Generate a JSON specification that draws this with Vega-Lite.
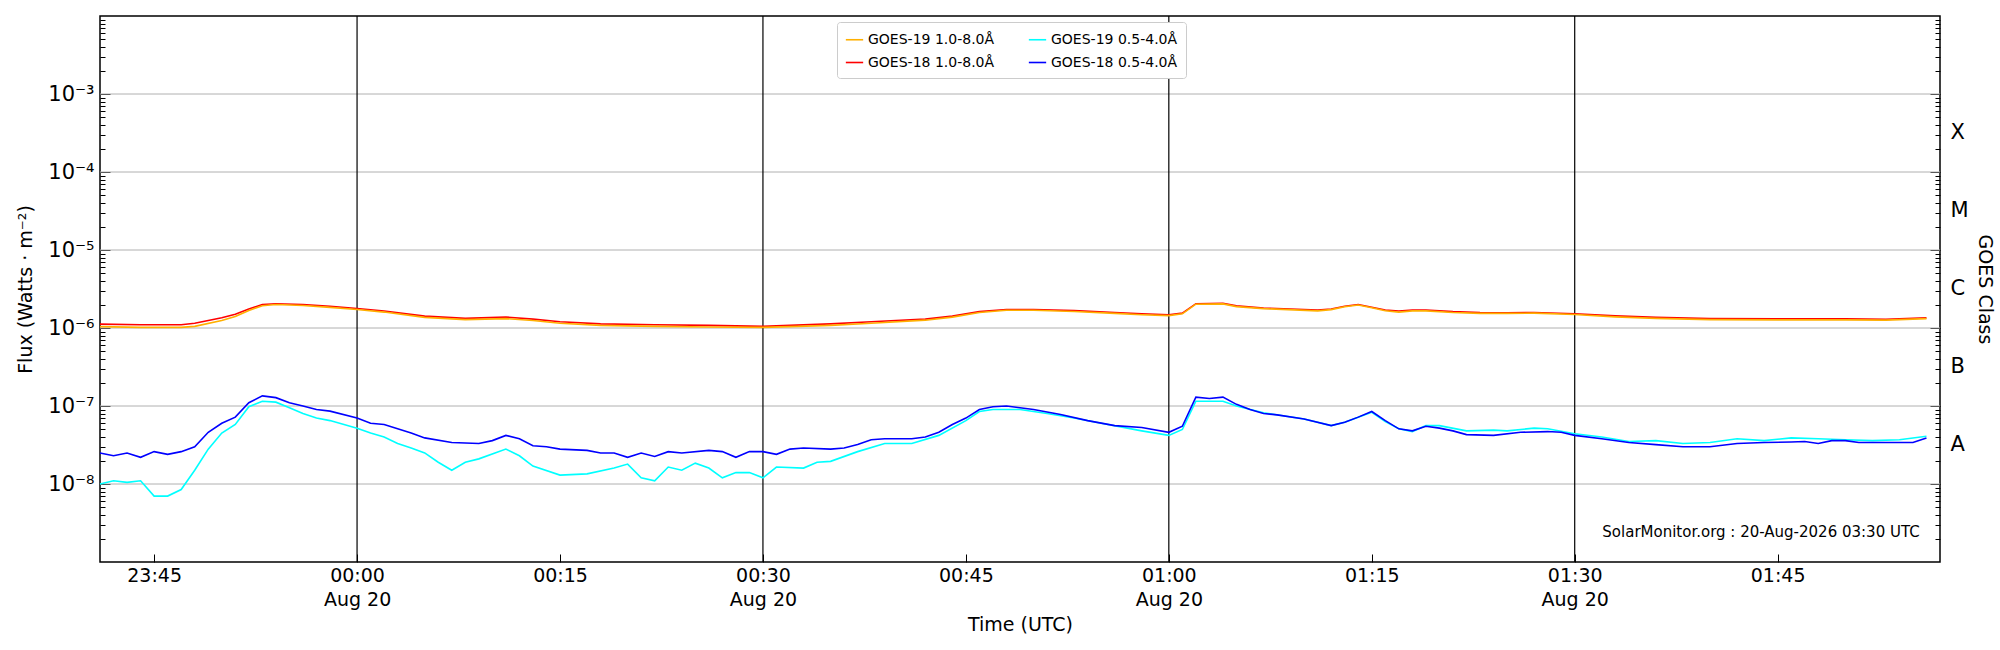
{
  "$schema": "https://vega.github.io/schema/vega-lite/v6.json",
  "width": 1840,
  "height": 546,
  "autosize": "none",
  "padding": {"left": 100, "top": 16, "right": 60, "bottom": 88},
  "background": "white",
  "config": {
    "font": "DejaVu Sans",
    "view": {"stroke": "black", "strokeWidth": 1.5},
    "axis": {"labelFont": "DejaVu Sans", "titleFont": "DejaVu Sans", "labelFontSize": 19, "titleFontSize": 19, "titleFontWeight": "normal", "labelColor": "black", "titleColor": "black", "domain": false, "tickColor": "black", "grid": false}
  },
  "datasets": {
    "flux": [
      {"t": "2026-08-19T23:41:00Z", "s": "GOES-18 1.0-8.0Å", "v": 1.12e-6},
      {"t": "2026-08-19T23:44:00Z", "s": "GOES-18 1.0-8.0Å", "v": 1.1e-6},
      {"t": "2026-08-19T23:47:00Z", "s": "GOES-18 1.0-8.0Å", "v": 1.1e-6},
      {"t": "2026-08-19T23:48:00Z", "s": "GOES-18 1.0-8.0Å", "v": 1.15e-6},
      {"t": "2026-08-19T23:50:00Z", "s": "GOES-18 1.0-8.0Å", "v": 1.35e-6},
      {"t": "2026-08-19T23:51:00Z", "s": "GOES-18 1.0-8.0Å", "v": 1.5e-6},
      {"t": "2026-08-19T23:52:00Z", "s": "GOES-18 1.0-8.0Å", "v": 1.75e-6},
      {"t": "2026-08-19T23:53:00Z", "s": "GOES-18 1.0-8.0Å", "v": 2.0e-6},
      {"t": "2026-08-19T23:54:00Z", "s": "GOES-18 1.0-8.0Å", "v": 2.05e-6},
      {"t": "2026-08-19T23:56:00Z", "s": "GOES-18 1.0-8.0Å", "v": 2.0e-6},
      {"t": "2026-08-19T23:58:00Z", "s": "GOES-18 1.0-8.0Å", "v": 1.9e-6},
      {"t": "2026-08-20T00:00:00Z", "s": "GOES-18 1.0-8.0Å", "v": 1.78e-6},
      {"t": "2026-08-20T00:02:00Z", "s": "GOES-18 1.0-8.0Å", "v": 1.65e-6},
      {"t": "2026-08-20T00:05:00Z", "s": "GOES-18 1.0-8.0Å", "v": 1.42e-6},
      {"t": "2026-08-20T00:08:00Z", "s": "GOES-18 1.0-8.0Å", "v": 1.33e-6},
      {"t": "2026-08-20T00:11:00Z", "s": "GOES-18 1.0-8.0Å", "v": 1.38e-6},
      {"t": "2026-08-20T00:13:00Z", "s": "GOES-18 1.0-8.0Å", "v": 1.3e-6},
      {"t": "2026-08-20T00:15:00Z", "s": "GOES-18 1.0-8.0Å", "v": 1.2e-6},
      {"t": "2026-08-20T00:18:00Z", "s": "GOES-18 1.0-8.0Å", "v": 1.13e-6},
      {"t": "2026-08-20T00:22:00Z", "s": "GOES-18 1.0-8.0Å", "v": 1.1e-6},
      {"t": "2026-08-20T00:26:00Z", "s": "GOES-18 1.0-8.0Å", "v": 1.08e-6},
      {"t": "2026-08-20T00:30:00Z", "s": "GOES-18 1.0-8.0Å", "v": 1.05e-6},
      {"t": "2026-08-20T00:32:00Z", "s": "GOES-18 1.0-8.0Å", "v": 1.08e-6},
      {"t": "2026-08-20T00:35:00Z", "s": "GOES-18 1.0-8.0Å", "v": 1.13e-6},
      {"t": "2026-08-20T00:38:00Z", "s": "GOES-18 1.0-8.0Å", "v": 1.2e-6},
      {"t": "2026-08-20T00:42:00Z", "s": "GOES-18 1.0-8.0Å", "v": 1.3e-6},
      {"t": "2026-08-20T00:44:00Z", "s": "GOES-18 1.0-8.0Å", "v": 1.42e-6},
      {"t": "2026-08-20T00:46:00Z", "s": "GOES-18 1.0-8.0Å", "v": 1.62e-6},
      {"t": "2026-08-20T00:48:00Z", "s": "GOES-18 1.0-8.0Å", "v": 1.73e-6},
      {"t": "2026-08-20T00:50:00Z", "s": "GOES-18 1.0-8.0Å", "v": 1.73e-6},
      {"t": "2026-08-20T00:53:00Z", "s": "GOES-18 1.0-8.0Å", "v": 1.67e-6},
      {"t": "2026-08-20T00:56:00Z", "s": "GOES-18 1.0-8.0Å", "v": 1.58e-6},
      {"t": "2026-08-20T00:58:00Z", "s": "GOES-18 1.0-8.0Å", "v": 1.52e-6},
      {"t": "2026-08-20T01:00:00Z", "s": "GOES-18 1.0-8.0Å", "v": 1.48e-6},
      {"t": "2026-08-20T01:01:00Z", "s": "GOES-18 1.0-8.0Å", "v": 1.55e-6},
      {"t": "2026-08-20T01:02:00Z", "s": "GOES-18 1.0-8.0Å", "v": 2.05e-6},
      {"t": "2026-08-20T01:04:00Z", "s": "GOES-18 1.0-8.0Å", "v": 2.07e-6},
      {"t": "2026-08-20T01:05:00Z", "s": "GOES-18 1.0-8.0Å", "v": 1.92e-6},
      {"t": "2026-08-20T01:07:00Z", "s": "GOES-18 1.0-8.0Å", "v": 1.8e-6},
      {"t": "2026-08-20T01:11:00Z", "s": "GOES-18 1.0-8.0Å", "v": 1.7e-6},
      {"t": "2026-08-20T01:12:00Z", "s": "GOES-18 1.0-8.0Å", "v": 1.75e-6},
      {"t": "2026-08-20T01:13:00Z", "s": "GOES-18 1.0-8.0Å", "v": 1.9e-6},
      {"t": "2026-08-20T01:14:00Z", "s": "GOES-18 1.0-8.0Å", "v": 2.0e-6},
      {"t": "2026-08-20T01:15:00Z", "s": "GOES-18 1.0-8.0Å", "v": 1.85e-6},
      {"t": "2026-08-20T01:16:00Z", "s": "GOES-18 1.0-8.0Å", "v": 1.7e-6},
      {"t": "2026-08-20T01:17:00Z", "s": "GOES-18 1.0-8.0Å", "v": 1.65e-6},
      {"t": "2026-08-20T01:18:00Z", "s": "GOES-18 1.0-8.0Å", "v": 1.7e-6},
      {"t": "2026-08-20T01:19:00Z", "s": "GOES-18 1.0-8.0Å", "v": 1.7e-6},
      {"t": "2026-08-20T01:21:00Z", "s": "GOES-18 1.0-8.0Å", "v": 1.62e-6},
      {"t": "2026-08-20T01:23:00Z", "s": "GOES-18 1.0-8.0Å", "v": 1.58e-6},
      {"t": "2026-08-20T01:25:00Z", "s": "GOES-18 1.0-8.0Å", "v": 1.57e-6},
      {"t": "2026-08-20T01:27:00Z", "s": "GOES-18 1.0-8.0Å", "v": 1.58e-6},
      {"t": "2026-08-20T01:30:00Z", "s": "GOES-18 1.0-8.0Å", "v": 1.52e-6},
      {"t": "2026-08-20T01:33:00Z", "s": "GOES-18 1.0-8.0Å", "v": 1.43e-6},
      {"t": "2026-08-20T01:36:00Z", "s": "GOES-18 1.0-8.0Å", "v": 1.37e-6},
      {"t": "2026-08-20T01:40:00Z", "s": "GOES-18 1.0-8.0Å", "v": 1.32e-6},
      {"t": "2026-08-20T01:45:00Z", "s": "GOES-18 1.0-8.0Å", "v": 1.31e-6},
      {"t": "2026-08-20T01:50:00Z", "s": "GOES-18 1.0-8.0Å", "v": 1.31e-6},
      {"t": "2026-08-20T01:53:00Z", "s": "GOES-18 1.0-8.0Å", "v": 1.29e-6},
      {"t": "2026-08-20T01:56:00Z", "s": "GOES-18 1.0-8.0Å", "v": 1.35e-6},

      {"t": "2026-08-19T23:41:00Z", "s": "GOES-19 1.0-8.0Å", "v": 1.04e-6},
      {"t": "2026-08-19T23:44:00Z", "s": "GOES-19 1.0-8.0Å", "v": 1.02e-6},
      {"t": "2026-08-19T23:47:00Z", "s": "GOES-19 1.0-8.0Å", "v": 1.02e-6},
      {"t": "2026-08-19T23:48:00Z", "s": "GOES-19 1.0-8.0Å", "v": 1.05e-6},
      {"t": "2026-08-19T23:50:00Z", "s": "GOES-19 1.0-8.0Å", "v": 1.25e-6},
      {"t": "2026-08-19T23:51:00Z", "s": "GOES-19 1.0-8.0Å", "v": 1.4e-6},
      {"t": "2026-08-19T23:52:00Z", "s": "GOES-19 1.0-8.0Å", "v": 1.68e-6},
      {"t": "2026-08-19T23:53:00Z", "s": "GOES-19 1.0-8.0Å", "v": 1.93e-6},
      {"t": "2026-08-19T23:54:00Z", "s": "GOES-19 1.0-8.0Å", "v": 2.0e-6},
      {"t": "2026-08-19T23:56:00Z", "s": "GOES-19 1.0-8.0Å", "v": 1.94e-6},
      {"t": "2026-08-19T23:58:00Z", "s": "GOES-19 1.0-8.0Å", "v": 1.84e-6},
      {"t": "2026-08-20T00:00:00Z", "s": "GOES-19 1.0-8.0Å", "v": 1.73e-6},
      {"t": "2026-08-20T00:02:00Z", "s": "GOES-19 1.0-8.0Å", "v": 1.6e-6},
      {"t": "2026-08-20T00:05:00Z", "s": "GOES-19 1.0-8.0Å", "v": 1.37e-6},
      {"t": "2026-08-20T00:08:00Z", "s": "GOES-19 1.0-8.0Å", "v": 1.28e-6},
      {"t": "2026-08-20T00:11:00Z", "s": "GOES-19 1.0-8.0Å", "v": 1.32e-6},
      {"t": "2026-08-20T00:13:00Z", "s": "GOES-19 1.0-8.0Å", "v": 1.25e-6},
      {"t": "2026-08-20T00:15:00Z", "s": "GOES-19 1.0-8.0Å", "v": 1.15e-6},
      {"t": "2026-08-20T00:18:00Z", "s": "GOES-19 1.0-8.0Å", "v": 1.08e-6},
      {"t": "2026-08-20T00:22:00Z", "s": "GOES-19 1.0-8.0Å", "v": 1.05e-6},
      {"t": "2026-08-20T00:26:00Z", "s": "GOES-19 1.0-8.0Å", "v": 1.03e-6},
      {"t": "2026-08-20T00:30:00Z", "s": "GOES-19 1.0-8.0Å", "v": 1.02e-6},
      {"t": "2026-08-20T00:32:00Z", "s": "GOES-19 1.0-8.0Å", "v": 1.04e-6},
      {"t": "2026-08-20T00:35:00Z", "s": "GOES-19 1.0-8.0Å", "v": 1.08e-6},
      {"t": "2026-08-20T00:38:00Z", "s": "GOES-19 1.0-8.0Å", "v": 1.15e-6},
      {"t": "2026-08-20T00:42:00Z", "s": "GOES-19 1.0-8.0Å", "v": 1.26e-6},
      {"t": "2026-08-20T00:44:00Z", "s": "GOES-19 1.0-8.0Å", "v": 1.38e-6},
      {"t": "2026-08-20T00:46:00Z", "s": "GOES-19 1.0-8.0Å", "v": 1.58e-6},
      {"t": "2026-08-20T00:48:00Z", "s": "GOES-19 1.0-8.0Å", "v": 1.69e-6},
      {"t": "2026-08-20T00:50:00Z", "s": "GOES-19 1.0-8.0Å", "v": 1.69e-6},
      {"t": "2026-08-20T00:53:00Z", "s": "GOES-19 1.0-8.0Å", "v": 1.63e-6},
      {"t": "2026-08-20T00:56:00Z", "s": "GOES-19 1.0-8.0Å", "v": 1.54e-6},
      {"t": "2026-08-20T00:58:00Z", "s": "GOES-19 1.0-8.0Å", "v": 1.48e-6},
      {"t": "2026-08-20T01:00:00Z", "s": "GOES-19 1.0-8.0Å", "v": 1.44e-6},
      {"t": "2026-08-20T01:01:00Z", "s": "GOES-19 1.0-8.0Å", "v": 1.52e-6},
      {"t": "2026-08-20T01:02:00Z", "s": "GOES-19 1.0-8.0Å", "v": 2.02e-6},
      {"t": "2026-08-20T01:04:00Z", "s": "GOES-19 1.0-8.0Å", "v": 2.04e-6},
      {"t": "2026-08-20T01:05:00Z", "s": "GOES-19 1.0-8.0Å", "v": 1.88e-6},
      {"t": "2026-08-20T01:07:00Z", "s": "GOES-19 1.0-8.0Å", "v": 1.77e-6},
      {"t": "2026-08-20T01:11:00Z", "s": "GOES-19 1.0-8.0Å", "v": 1.66e-6},
      {"t": "2026-08-20T01:12:00Z", "s": "GOES-19 1.0-8.0Å", "v": 1.72e-6},
      {"t": "2026-08-20T01:13:00Z", "s": "GOES-19 1.0-8.0Å", "v": 1.87e-6},
      {"t": "2026-08-20T01:14:00Z", "s": "GOES-19 1.0-8.0Å", "v": 1.97e-6},
      {"t": "2026-08-20T01:15:00Z", "s": "GOES-19 1.0-8.0Å", "v": 1.82e-6},
      {"t": "2026-08-20T01:16:00Z", "s": "GOES-19 1.0-8.0Å", "v": 1.66e-6},
      {"t": "2026-08-20T01:17:00Z", "s": "GOES-19 1.0-8.0Å", "v": 1.6e-6},
      {"t": "2026-08-20T01:18:00Z", "s": "GOES-19 1.0-8.0Å", "v": 1.66e-6},
      {"t": "2026-08-20T01:19:00Z", "s": "GOES-19 1.0-8.0Å", "v": 1.66e-6},
      {"t": "2026-08-20T01:21:00Z", "s": "GOES-19 1.0-8.0Å", "v": 1.58e-6},
      {"t": "2026-08-20T01:23:00Z", "s": "GOES-19 1.0-8.0Å", "v": 1.54e-6},
      {"t": "2026-08-20T01:25:00Z", "s": "GOES-19 1.0-8.0Å", "v": 1.54e-6},
      {"t": "2026-08-20T01:27:00Z", "s": "GOES-19 1.0-8.0Å", "v": 1.55e-6},
      {"t": "2026-08-20T01:30:00Z", "s": "GOES-19 1.0-8.0Å", "v": 1.49e-6},
      {"t": "2026-08-20T01:33:00Z", "s": "GOES-19 1.0-8.0Å", "v": 1.39e-6},
      {"t": "2026-08-20T01:36:00Z", "s": "GOES-19 1.0-8.0Å", "v": 1.33e-6},
      {"t": "2026-08-20T01:40:00Z", "s": "GOES-19 1.0-8.0Å", "v": 1.28e-6},
      {"t": "2026-08-20T01:45:00Z", "s": "GOES-19 1.0-8.0Å", "v": 1.27e-6},
      {"t": "2026-08-20T01:50:00Z", "s": "GOES-19 1.0-8.0Å", "v": 1.27e-6},
      {"t": "2026-08-20T01:53:00Z", "s": "GOES-19 1.0-8.0Å", "v": 1.26e-6},
      {"t": "2026-08-20T01:56:00Z", "s": "GOES-19 1.0-8.0Å", "v": 1.32e-6},

      {"t": "2026-08-19T23:41:00Z", "s": "GOES-19 0.5-4.0Å", "v": 1.0e-8},
      {"t": "2026-08-19T23:42:00Z", "s": "GOES-19 0.5-4.0Å", "v": 1.1e-8},
      {"t": "2026-08-19T23:43:00Z", "s": "GOES-19 0.5-4.0Å", "v": 1.05e-8},
      {"t": "2026-08-19T23:44:00Z", "s": "GOES-19 0.5-4.0Å", "v": 1.1e-8},
      {"t": "2026-08-19T23:45:00Z", "s": "GOES-19 0.5-4.0Å", "v": 0.7e-8},
      {"t": "2026-08-19T23:46:00Z", "s": "GOES-19 0.5-4.0Å", "v": 0.7e-8},
      {"t": "2026-08-19T23:47:00Z", "s": "GOES-19 0.5-4.0Å", "v": 0.85e-8},
      {"t": "2026-08-19T23:48:00Z", "s": "GOES-19 0.5-4.0Å", "v": 1.5e-8},
      {"t": "2026-08-19T23:49:00Z", "s": "GOES-19 0.5-4.0Å", "v": 2.8e-8},
      {"t": "2026-08-19T23:50:00Z", "s": "GOES-19 0.5-4.0Å", "v": 4.5e-8},
      {"t": "2026-08-19T23:51:00Z", "s": "GOES-19 0.5-4.0Å", "v": 5.8e-8},
      {"t": "2026-08-19T23:52:00Z", "s": "GOES-19 0.5-4.0Å", "v": 9.8e-8},
      {"t": "2026-08-19T23:53:00Z", "s": "GOES-19 0.5-4.0Å", "v": 1.15e-7},
      {"t": "2026-08-19T23:54:00Z", "s": "GOES-19 0.5-4.0Å", "v": 1.12e-7},
      {"t": "2026-08-19T23:55:00Z", "s": "GOES-19 0.5-4.0Å", "v": 9.5e-8},
      {"t": "2026-08-19T23:56:00Z", "s": "GOES-19 0.5-4.0Å", "v": 8.0e-8},
      {"t": "2026-08-19T23:57:00Z", "s": "GOES-19 0.5-4.0Å", "v": 7.0e-8},
      {"t": "2026-08-19T23:58:00Z", "s": "GOES-19 0.5-4.0Å", "v": 6.5e-8},
      {"t": "2026-08-20T00:00:00Z", "s": "GOES-19 0.5-4.0Å", "v": 5.2e-8},
      {"t": "2026-08-20T00:01:00Z", "s": "GOES-19 0.5-4.0Å", "v": 4.5e-8},
      {"t": "2026-08-20T00:02:00Z", "s": "GOES-19 0.5-4.0Å", "v": 4.0e-8},
      {"t": "2026-08-20T00:03:00Z", "s": "GOES-19 0.5-4.0Å", "v": 3.3e-8},
      {"t": "2026-08-20T00:04:00Z", "s": "GOES-19 0.5-4.0Å", "v": 2.9e-8},
      {"t": "2026-08-20T00:05:00Z", "s": "GOES-19 0.5-4.0Å", "v": 2.5e-8},
      {"t": "2026-08-20T00:06:00Z", "s": "GOES-19 0.5-4.0Å", "v": 1.9e-8},
      {"t": "2026-08-20T00:07:00Z", "s": "GOES-19 0.5-4.0Å", "v": 1.5e-8},
      {"t": "2026-08-20T00:08:00Z", "s": "GOES-19 0.5-4.0Å", "v": 1.9e-8},
      {"t": "2026-08-20T00:09:00Z", "s": "GOES-19 0.5-4.0Å", "v": 2.1e-8},
      {"t": "2026-08-20T00:11:00Z", "s": "GOES-19 0.5-4.0Å", "v": 2.8e-8},
      {"t": "2026-08-20T00:12:00Z", "s": "GOES-19 0.5-4.0Å", "v": 2.3e-8},
      {"t": "2026-08-20T00:13:00Z", "s": "GOES-19 0.5-4.0Å", "v": 1.7e-8},
      {"t": "2026-08-20T00:15:00Z", "s": "GOES-19 0.5-4.0Å", "v": 1.3e-8},
      {"t": "2026-08-20T00:17:00Z", "s": "GOES-19 0.5-4.0Å", "v": 1.35e-8},
      {"t": "2026-08-20T00:19:00Z", "s": "GOES-19 0.5-4.0Å", "v": 1.6e-8},
      {"t": "2026-08-20T00:20:00Z", "s": "GOES-19 0.5-4.0Å", "v": 1.8e-8},
      {"t": "2026-08-20T00:21:00Z", "s": "GOES-19 0.5-4.0Å", "v": 1.2e-8},
      {"t": "2026-08-20T00:22:00Z", "s": "GOES-19 0.5-4.0Å", "v": 1.1e-8},
      {"t": "2026-08-20T00:23:00Z", "s": "GOES-19 0.5-4.0Å", "v": 1.65e-8},
      {"t": "2026-08-20T00:24:00Z", "s": "GOES-19 0.5-4.0Å", "v": 1.5e-8},
      {"t": "2026-08-20T00:25:00Z", "s": "GOES-19 0.5-4.0Å", "v": 1.85e-8},
      {"t": "2026-08-20T00:26:00Z", "s": "GOES-19 0.5-4.0Å", "v": 1.6e-8},
      {"t": "2026-08-20T00:27:00Z", "s": "GOES-19 0.5-4.0Å", "v": 1.2e-8},
      {"t": "2026-08-20T00:28:00Z", "s": "GOES-19 0.5-4.0Å", "v": 1.4e-8},
      {"t": "2026-08-20T00:29:00Z", "s": "GOES-19 0.5-4.0Å", "v": 1.4e-8},
      {"t": "2026-08-20T00:30:00Z", "s": "GOES-19 0.5-4.0Å", "v": 1.2e-8},
      {"t": "2026-08-20T00:31:00Z", "s": "GOES-19 0.5-4.0Å", "v": 1.65e-8},
      {"t": "2026-08-20T00:33:00Z", "s": "GOES-19 0.5-4.0Å", "v": 1.6e-8},
      {"t": "2026-08-20T00:34:00Z", "s": "GOES-19 0.5-4.0Å", "v": 1.9e-8},
      {"t": "2026-08-20T00:35:00Z", "s": "GOES-19 0.5-4.0Å", "v": 1.95e-8},
      {"t": "2026-08-20T00:37:00Z", "s": "GOES-19 0.5-4.0Å", "v": 2.6e-8},
      {"t": "2026-08-20T00:39:00Z", "s": "GOES-19 0.5-4.0Å", "v": 3.3e-8},
      {"t": "2026-08-20T00:41:00Z", "s": "GOES-19 0.5-4.0Å", "v": 3.3e-8},
      {"t": "2026-08-20T00:43:00Z", "s": "GOES-19 0.5-4.0Å", "v": 4.2e-8},
      {"t": "2026-08-20T00:45:00Z", "s": "GOES-19 0.5-4.0Å", "v": 6.5e-8},
      {"t": "2026-08-20T00:46:00Z", "s": "GOES-19 0.5-4.0Å", "v": 8.5e-8},
      {"t": "2026-08-20T00:47:00Z", "s": "GOES-19 0.5-4.0Å", "v": 9.0e-8},
      {"t": "2026-08-20T00:49:00Z", "s": "GOES-19 0.5-4.0Å", "v": 9.0e-8},
      {"t": "2026-08-20T00:51:00Z", "s": "GOES-19 0.5-4.0Å", "v": 8.0e-8},
      {"t": "2026-08-20T00:53:00Z", "s": "GOES-19 0.5-4.0Å", "v": 7.0e-8},
      {"t": "2026-08-20T00:55:00Z", "s": "GOES-19 0.5-4.0Å", "v": 6.0e-8},
      {"t": "2026-08-20T00:58:00Z", "s": "GOES-19 0.5-4.0Å", "v": 4.8e-8},
      {"t": "2026-08-20T01:00:00Z", "s": "GOES-19 0.5-4.0Å", "v": 4.2e-8},
      {"t": "2026-08-20T01:01:00Z", "s": "GOES-19 0.5-4.0Å", "v": 5.0e-8},
      {"t": "2026-08-20T01:02:00Z", "s": "GOES-19 0.5-4.0Å", "v": 1.15e-7},
      {"t": "2026-08-20T01:04:00Z", "s": "GOES-19 0.5-4.0Å", "v": 1.15e-7},
      {"t": "2026-08-20T01:05:00Z", "s": "GOES-19 0.5-4.0Å", "v": 1.0e-7},
      {"t": "2026-08-20T01:07:00Z", "s": "GOES-19 0.5-4.0Å", "v": 8.2e-8},
      {"t": "2026-08-20T01:10:00Z", "s": "GOES-19 0.5-4.0Å", "v": 6.8e-8},
      {"t": "2026-08-20T01:12:00Z", "s": "GOES-19 0.5-4.0Å", "v": 5.6e-8},
      {"t": "2026-08-20T01:13:00Z", "s": "GOES-19 0.5-4.0Å", "v": 6.2e-8},
      {"t": "2026-08-20T01:14:00Z", "s": "GOES-19 0.5-4.0Å", "v": 7.2e-8},
      {"t": "2026-08-20T01:15:00Z", "s": "GOES-19 0.5-4.0Å", "v": 8.3e-8},
      {"t": "2026-08-20T01:16:00Z", "s": "GOES-19 0.5-4.0Å", "v": 6.3e-8},
      {"t": "2026-08-20T01:17:00Z", "s": "GOES-19 0.5-4.0Å", "v": 5.1e-8},
      {"t": "2026-08-20T01:18:00Z", "s": "GOES-19 0.5-4.0Å", "v": 4.7e-8},
      {"t": "2026-08-20T01:19:00Z", "s": "GOES-19 0.5-4.0Å", "v": 5.6e-8},
      {"t": "2026-08-20T01:20:00Z", "s": "GOES-19 0.5-4.0Å", "v": 5.6e-8},
      {"t": "2026-08-20T01:22:00Z", "s": "GOES-19 0.5-4.0Å", "v": 4.8e-8},
      {"t": "2026-08-20T01:24:00Z", "s": "GOES-19 0.5-4.0Å", "v": 4.9e-8},
      {"t": "2026-08-20T01:25:00Z", "s": "GOES-19 0.5-4.0Å", "v": 4.8e-8},
      {"t": "2026-08-20T01:27:00Z", "s": "GOES-19 0.5-4.0Å", "v": 5.2e-8},
      {"t": "2026-08-20T01:28:00Z", "s": "GOES-19 0.5-4.0Å", "v": 5.1e-8},
      {"t": "2026-08-20T01:30:00Z", "s": "GOES-19 0.5-4.0Å", "v": 4.4e-8},
      {"t": "2026-08-20T01:32:00Z", "s": "GOES-19 0.5-4.0Å", "v": 4.0e-8},
      {"t": "2026-08-20T01:34:00Z", "s": "GOES-19 0.5-4.0Å", "v": 3.5e-8},
      {"t": "2026-08-20T01:36:00Z", "s": "GOES-19 0.5-4.0Å", "v": 3.6e-8},
      {"t": "2026-08-20T01:38:00Z", "s": "GOES-19 0.5-4.0Å", "v": 3.3e-8},
      {"t": "2026-08-20T01:40:00Z", "s": "GOES-19 0.5-4.0Å", "v": 3.4e-8},
      {"t": "2026-08-20T01:42:00Z", "s": "GOES-19 0.5-4.0Å", "v": 3.8e-8},
      {"t": "2026-08-20T01:44:00Z", "s": "GOES-19 0.5-4.0Å", "v": 3.6e-8},
      {"t": "2026-08-20T01:46:00Z", "s": "GOES-19 0.5-4.0Å", "v": 3.9e-8},
      {"t": "2026-08-20T01:48:00Z", "s": "GOES-19 0.5-4.0Å", "v": 3.8e-8},
      {"t": "2026-08-20T01:50:00Z", "s": "GOES-19 0.5-4.0Å", "v": 3.7e-8},
      {"t": "2026-08-20T01:52:00Z", "s": "GOES-19 0.5-4.0Å", "v": 3.6e-8},
      {"t": "2026-08-20T01:54:00Z", "s": "GOES-19 0.5-4.0Å", "v": 3.7e-8},
      {"t": "2026-08-20T01:56:00Z", "s": "GOES-19 0.5-4.0Å", "v": 4.1e-8},

      {"t": "2026-08-19T23:41:00Z", "s": "GOES-18 0.5-4.0Å", "v": 2.5e-8},
      {"t": "2026-08-19T23:42:00Z", "s": "GOES-18 0.5-4.0Å", "v": 2.3e-8},
      {"t": "2026-08-19T23:43:00Z", "s": "GOES-18 0.5-4.0Å", "v": 2.5e-8},
      {"t": "2026-08-19T23:44:00Z", "s": "GOES-18 0.5-4.0Å", "v": 2.2e-8},
      {"t": "2026-08-19T23:45:00Z", "s": "GOES-18 0.5-4.0Å", "v": 2.6e-8},
      {"t": "2026-08-19T23:46:00Z", "s": "GOES-18 0.5-4.0Å", "v": 2.4e-8},
      {"t": "2026-08-19T23:47:00Z", "s": "GOES-18 0.5-4.0Å", "v": 2.6e-8},
      {"t": "2026-08-19T23:48:00Z", "s": "GOES-18 0.5-4.0Å", "v": 3.0e-8},
      {"t": "2026-08-19T23:49:00Z", "s": "GOES-18 0.5-4.0Å", "v": 4.6e-8},
      {"t": "2026-08-19T23:50:00Z", "s": "GOES-18 0.5-4.0Å", "v": 6.0e-8},
      {"t": "2026-08-19T23:51:00Z", "s": "GOES-18 0.5-4.0Å", "v": 7.2e-8},
      {"t": "2026-08-19T23:52:00Z", "s": "GOES-18 0.5-4.0Å", "v": 1.1e-7},
      {"t": "2026-08-19T23:53:00Z", "s": "GOES-18 0.5-4.0Å", "v": 1.35e-7},
      {"t": "2026-08-19T23:54:00Z", "s": "GOES-18 0.5-4.0Å", "v": 1.28e-7},
      {"t": "2026-08-19T23:55:00Z", "s": "GOES-18 0.5-4.0Å", "v": 1.1e-7},
      {"t": "2026-08-19T23:56:00Z", "s": "GOES-18 0.5-4.0Å", "v": 1.0e-7},
      {"t": "2026-08-19T23:57:00Z", "s": "GOES-18 0.5-4.0Å", "v": 9.0e-8},
      {"t": "2026-08-19T23:58:00Z", "s": "GOES-18 0.5-4.0Å", "v": 8.6e-8},
      {"t": "2026-08-20T00:00:00Z", "s": "GOES-18 0.5-4.0Å", "v": 7.0e-8},
      {"t": "2026-08-20T00:01:00Z", "s": "GOES-18 0.5-4.0Å", "v": 6.0e-8},
      {"t": "2026-08-20T00:02:00Z", "s": "GOES-18 0.5-4.0Å", "v": 5.8e-8},
      {"t": "2026-08-20T00:04:00Z", "s": "GOES-18 0.5-4.0Å", "v": 4.5e-8},
      {"t": "2026-08-20T00:05:00Z", "s": "GOES-18 0.5-4.0Å", "v": 3.9e-8},
      {"t": "2026-08-20T00:07:00Z", "s": "GOES-18 0.5-4.0Å", "v": 3.4e-8},
      {"t": "2026-08-20T00:09:00Z", "s": "GOES-18 0.5-4.0Å", "v": 3.3e-8},
      {"t": "2026-08-20T00:10:00Z", "s": "GOES-18 0.5-4.0Å", "v": 3.6e-8},
      {"t": "2026-08-20T00:11:00Z", "s": "GOES-18 0.5-4.0Å", "v": 4.2e-8},
      {"t": "2026-08-20T00:12:00Z", "s": "GOES-18 0.5-4.0Å", "v": 3.8e-8},
      {"t": "2026-08-20T00:13:00Z", "s": "GOES-18 0.5-4.0Å", "v": 3.1e-8},
      {"t": "2026-08-20T00:14:00Z", "s": "GOES-18 0.5-4.0Å", "v": 3.0e-8},
      {"t": "2026-08-20T00:15:00Z", "s": "GOES-18 0.5-4.0Å", "v": 2.8e-8},
      {"t": "2026-08-20T00:17:00Z", "s": "GOES-18 0.5-4.0Å", "v": 2.7e-8},
      {"t": "2026-08-20T00:18:00Z", "s": "GOES-18 0.5-4.0Å", "v": 2.5e-8},
      {"t": "2026-08-20T00:19:00Z", "s": "GOES-18 0.5-4.0Å", "v": 2.5e-8},
      {"t": "2026-08-20T00:20:00Z", "s": "GOES-18 0.5-4.0Å", "v": 2.2e-8},
      {"t": "2026-08-20T00:21:00Z", "s": "GOES-18 0.5-4.0Å", "v": 2.5e-8},
      {"t": "2026-08-20T00:22:00Z", "s": "GOES-18 0.5-4.0Å", "v": 2.25e-8},
      {"t": "2026-08-20T00:23:00Z", "s": "GOES-18 0.5-4.0Å", "v": 2.6e-8},
      {"t": "2026-08-20T00:24:00Z", "s": "GOES-18 0.5-4.0Å", "v": 2.5e-8},
      {"t": "2026-08-20T00:26:00Z", "s": "GOES-18 0.5-4.0Å", "v": 2.7e-8},
      {"t": "2026-08-20T00:27:00Z", "s": "GOES-18 0.5-4.0Å", "v": 2.6e-8},
      {"t": "2026-08-20T00:28:00Z", "s": "GOES-18 0.5-4.0Å", "v": 2.2e-8},
      {"t": "2026-08-20T00:29:00Z", "s": "GOES-18 0.5-4.0Å", "v": 2.6e-8},
      {"t": "2026-08-20T00:30:00Z", "s": "GOES-18 0.5-4.0Å", "v": 2.6e-8},
      {"t": "2026-08-20T00:31:00Z", "s": "GOES-18 0.5-4.0Å", "v": 2.4e-8},
      {"t": "2026-08-20T00:32:00Z", "s": "GOES-18 0.5-4.0Å", "v": 2.8e-8},
      {"t": "2026-08-20T00:33:00Z", "s": "GOES-18 0.5-4.0Å", "v": 2.9e-8},
      {"t": "2026-08-20T00:35:00Z", "s": "GOES-18 0.5-4.0Å", "v": 2.8e-8},
      {"t": "2026-08-20T00:36:00Z", "s": "GOES-18 0.5-4.0Å", "v": 2.9e-8},
      {"t": "2026-08-20T00:37:00Z", "s": "GOES-18 0.5-4.0Å", "v": 3.2e-8},
      {"t": "2026-08-20T00:38:00Z", "s": "GOES-18 0.5-4.0Å", "v": 3.7e-8},
      {"t": "2026-08-20T00:39:00Z", "s": "GOES-18 0.5-4.0Å", "v": 3.8e-8},
      {"t": "2026-08-20T00:41:00Z", "s": "GOES-18 0.5-4.0Å", "v": 3.8e-8},
      {"t": "2026-08-20T00:42:00Z", "s": "GOES-18 0.5-4.0Å", "v": 4.0e-8},
      {"t": "2026-08-20T00:43:00Z", "s": "GOES-18 0.5-4.0Å", "v": 4.6e-8},
      {"t": "2026-08-20T00:44:00Z", "s": "GOES-18 0.5-4.0Å", "v": 5.8e-8},
      {"t": "2026-08-20T00:45:00Z", "s": "GOES-18 0.5-4.0Å", "v": 7.0e-8},
      {"t": "2026-08-20T00:46:00Z", "s": "GOES-18 0.5-4.0Å", "v": 9.0e-8},
      {"t": "2026-08-20T00:47:00Z", "s": "GOES-18 0.5-4.0Å", "v": 9.8e-8},
      {"t": "2026-08-20T00:48:00Z", "s": "GOES-18 0.5-4.0Å", "v": 1.0e-7},
      {"t": "2026-08-20T00:49:00Z", "s": "GOES-18 0.5-4.0Å", "v": 9.5e-8},
      {"t": "2026-08-20T00:50:00Z", "s": "GOES-18 0.5-4.0Å", "v": 9.0e-8},
      {"t": "2026-08-20T00:52:00Z", "s": "GOES-18 0.5-4.0Å", "v": 7.8e-8},
      {"t": "2026-08-20T00:54:00Z", "s": "GOES-18 0.5-4.0Å", "v": 6.5e-8},
      {"t": "2026-08-20T00:56:00Z", "s": "GOES-18 0.5-4.0Å", "v": 5.6e-8},
      {"t": "2026-08-20T00:58:00Z", "s": "GOES-18 0.5-4.0Å", "v": 5.3e-8},
      {"t": "2026-08-20T01:00:00Z", "s": "GOES-18 0.5-4.0Å", "v": 4.6e-8},
      {"t": "2026-08-20T01:01:00Z", "s": "GOES-18 0.5-4.0Å", "v": 5.5e-8},
      {"t": "2026-08-20T01:02:00Z", "s": "GOES-18 0.5-4.0Å", "v": 1.3e-7},
      {"t": "2026-08-20T01:03:00Z", "s": "GOES-18 0.5-4.0Å", "v": 1.25e-7},
      {"t": "2026-08-20T01:04:00Z", "s": "GOES-18 0.5-4.0Å", "v": 1.3e-7},
      {"t": "2026-08-20T01:05:00Z", "s": "GOES-18 0.5-4.0Å", "v": 1.05e-7},
      {"t": "2026-08-20T01:06:00Z", "s": "GOES-18 0.5-4.0Å", "v": 9.0e-8},
      {"t": "2026-08-20T01:07:00Z", "s": "GOES-18 0.5-4.0Å", "v": 8.0e-8},
      {"t": "2026-08-20T01:08:00Z", "s": "GOES-18 0.5-4.0Å", "v": 7.7e-8},
      {"t": "2026-08-20T01:10:00Z", "s": "GOES-18 0.5-4.0Å", "v": 6.8e-8},
      {"t": "2026-08-20T01:12:00Z", "s": "GOES-18 0.5-4.0Å", "v": 5.6e-8},
      {"t": "2026-08-20T01:13:00Z", "s": "GOES-18 0.5-4.0Å", "v": 6.2e-8},
      {"t": "2026-08-20T01:14:00Z", "s": "GOES-18 0.5-4.0Å", "v": 7.2e-8},
      {"t": "2026-08-20T01:15:00Z", "s": "GOES-18 0.5-4.0Å", "v": 8.5e-8},
      {"t": "2026-08-20T01:16:00Z", "s": "GOES-18 0.5-4.0Å", "v": 6.5e-8},
      {"t": "2026-08-20T01:17:00Z", "s": "GOES-18 0.5-4.0Å", "v": 5.1e-8},
      {"t": "2026-08-20T01:18:00Z", "s": "GOES-18 0.5-4.0Å", "v": 4.8e-8},
      {"t": "2026-08-20T01:19:00Z", "s": "GOES-18 0.5-4.0Å", "v": 5.5e-8},
      {"t": "2026-08-20T01:20:00Z", "s": "GOES-18 0.5-4.0Å", "v": 5.2e-8},
      {"t": "2026-08-20T01:21:00Z", "s": "GOES-18 0.5-4.0Å", "v": 4.8e-8},
      {"t": "2026-08-20T01:22:00Z", "s": "GOES-18 0.5-4.0Å", "v": 4.3e-8},
      {"t": "2026-08-20T01:24:00Z", "s": "GOES-18 0.5-4.0Å", "v": 4.2e-8},
      {"t": "2026-08-20T01:26:00Z", "s": "GOES-18 0.5-4.0Å", "v": 4.6e-8},
      {"t": "2026-08-20T01:28:00Z", "s": "GOES-18 0.5-4.0Å", "v": 4.7e-8},
      {"t": "2026-08-20T01:29:00Z", "s": "GOES-18 0.5-4.0Å", "v": 4.6e-8},
      {"t": "2026-08-20T01:30:00Z", "s": "GOES-18 0.5-4.0Å", "v": 4.2e-8},
      {"t": "2026-08-20T01:32:00Z", "s": "GOES-18 0.5-4.0Å", "v": 3.8e-8},
      {"t": "2026-08-20T01:34:00Z", "s": "GOES-18 0.5-4.0Å", "v": 3.4e-8},
      {"t": "2026-08-20T01:36:00Z", "s": "GOES-18 0.5-4.0Å", "v": 3.2e-8},
      {"t": "2026-08-20T01:38:00Z", "s": "GOES-18 0.5-4.0Å", "v": 3.0e-8},
      {"t": "2026-08-20T01:40:00Z", "s": "GOES-18 0.5-4.0Å", "v": 3.0e-8},
      {"t": "2026-08-20T01:42:00Z", "s": "GOES-18 0.5-4.0Å", "v": 3.3e-8},
      {"t": "2026-08-20T01:44:00Z", "s": "GOES-18 0.5-4.0Å", "v": 3.4e-8},
      {"t": "2026-08-20T01:46:00Z", "s": "GOES-18 0.5-4.0Å", "v": 3.45e-8},
      {"t": "2026-08-20T01:47:00Z", "s": "GOES-18 0.5-4.0Å", "v": 3.5e-8},
      {"t": "2026-08-20T01:48:00Z", "s": "GOES-18 0.5-4.0Å", "v": 3.3e-8},
      {"t": "2026-08-20T01:49:00Z", "s": "GOES-18 0.5-4.0Å", "v": 3.6e-8},
      {"t": "2026-08-20T01:50:00Z", "s": "GOES-18 0.5-4.0Å", "v": 3.6e-8},
      {"t": "2026-08-20T01:51:00Z", "s": "GOES-18 0.5-4.0Å", "v": 3.4e-8},
      {"t": "2026-08-20T01:53:00Z", "s": "GOES-18 0.5-4.0Å", "v": 3.4e-8},
      {"t": "2026-08-20T01:55:00Z", "s": "GOES-18 0.5-4.0Å", "v": 3.4e-8},
      {"t": "2026-08-20T01:56:00Z", "s": "GOES-18 0.5-4.0Å", "v": 3.9e-8}
    ],
    "grid": [{"v": 1e-8}, {"v": 1e-7}, {"v": 1e-6}, {"v": 1e-5}, {"v": 1e-4}, {"v": 1e-3}],
    "vlines": [{"t": "2026-08-20T00:00:00Z"}, {"t": "2026-08-20T00:30:00Z"}, {"t": "2026-08-20T01:00:00Z"}, {"t": "2026-08-20T01:30:00Z"}],
    "note": [{"t": "2026-08-20T01:55:30Z", "v": 2.4e-9, "label": "SolarMonitor.org : 20-Aug-2026 03:30 UTC"}]
  },
  "layer": [
    {
      "data": {"name": "grid"},
      "mark": {"type": "rule", "color": "#b0b0b0", "strokeWidth": 1},
      "encoding": {
        "y": {"field": "v", "type": "quantitative", "scale": {"type": "log", "domain": [1e-9, 1e-2], "nice": false},
          "axis": {
            "orient": "left", "title": "Flux (Watts · m⁻²)", "titlePadding": 12,
            "values": [2e-9,3e-9,4e-9,5e-9,6e-9,7e-9,8e-9,9e-9,1e-8,2e-8,3e-8,4e-8,5e-8,6e-8,7e-8,8e-8,9e-8,1e-7,2e-7,3e-7,4e-7,5e-7,6e-7,7e-7,8e-7,9e-7,1e-6,2e-6,3e-6,4e-6,5e-6,6e-6,7e-6,8e-6,9e-6,1e-5,2e-5,3e-5,4e-5,5e-5,6e-5,7e-5,8e-5,9e-5,1e-4,2e-4,3e-4,4e-4,5e-4,6e-4,7e-4,8e-4,9e-4,1e-3,2e-3,3e-3,4e-3,5e-3,6e-3,7e-3,8e-3,9e-3],
            "labelExpr": "abs(log(datum.value)/LN10 - round(log(datum.value)/LN10)) < 0.01 ? '10' + ['⁻³','⁻⁴','⁻⁵','⁻⁶','⁻⁷','⁻⁸'][-3 - round(log(datum.value)/LN10)] : ''",
            "tickSize": {"condition": {"test": "abs(log(datum.value)/LN10 - round(log(datum.value)/LN10)) < 0.01", "value": -10}, "value": -5},
            "labelPadding": 16, "labelFontSize": 21
          }
        }
      }
    },
    {
      "data": {"name": "vlines"},
      "mark": {"type": "rule", "color": "black", "strokeWidth": 1.2},
      "encoding": {
        "x": {"field": "t", "type": "temporal"}
      }
    },
    {
      "data": {"name": "flux"},
      "mark": {"type": "line", "strokeWidth": 1.6},
      "encoding": {
        "x": {"field": "t", "type": "temporal",
          "scale": {"type": "utc", "domain": [{"year": 2026, "month": 8, "date": 19, "hours": 23, "minutes": 41, "utc": true}, {"year": 2026, "month": 8, "date": 20, "hours": 1, "minutes": 57, "utc": true}]},
          "axis": {"title": "Time (UTC)", "titlePadding": 6,
            "values": [{"year": 2026, "month": 8, "date": 19, "hours": 23, "minutes": 45, "utc": true}, {"year": 2026, "month": 8, "date": 20, "hours": 0, "minutes": 0, "utc": true}, {"year": 2026, "month": 8, "date": 20, "hours": 0, "minutes": 15, "utc": true}, {"year": 2026, "month": 8, "date": 20, "hours": 0, "minutes": 30, "utc": true}, {"year": 2026, "month": 8, "date": 20, "hours": 0, "minutes": 45, "utc": true}, {"year": 2026, "month": 8, "date": 20, "hours": 1, "minutes": 0, "utc": true}, {"year": 2026, "month": 8, "date": 20, "hours": 1, "minutes": 15, "utc": true}, {"year": 2026, "month": 8, "date": 20, "hours": 1, "minutes": 30, "utc": true}, {"year": 2026, "month": 8, "date": 20, "hours": 1, "minutes": 45, "utc": true}],
            "labelExpr": "utcminutes(datum.value) % 30 == 0 ? [utcFormat(datum.value, '%H:%M'), 'Aug 20'] : utcFormat(datum.value, '%H:%M')",
            "tickSize": -8, "labelPadding": 12, "labelLineHeight": 24}
        },
        "y": {"field": "v", "type": "quantitative", "scale": {"type": "log", "domain": [1e-9, 1e-2], "nice": false},
          "axis": {
            "orient": "right", "title": "GOES Class", "titlePadding": 6,
            "values": [2e-9,3e-9,4e-9,5e-9,6e-9,7e-9,8e-9,9e-9,1e-8,2e-8,3e-8,3.1623e-8,4e-8,5e-8,6e-8,7e-8,8e-8,9e-8,1e-7,2e-7,3e-7,3.1623e-7,4e-7,5e-7,6e-7,7e-7,8e-7,9e-7,1e-6,2e-6,3e-6,3.1623e-6,4e-6,5e-6,6e-6,7e-6,8e-6,9e-6,1e-5,2e-5,3e-5,3.1623e-5,4e-5,5e-5,6e-5,7e-5,8e-5,9e-5,1e-4,2e-4,3e-4,3.1623e-4,4e-4,5e-4,6e-4,7e-4,8e-4,9e-4,1e-3,2e-3,3e-3,4e-3,5e-3,6e-3,7e-3,8e-3,9e-3],
            "labelExpr": "abs(log(datum.value)/LN10 - floor(log(datum.value)/LN10) - 0.5) < 0.001 ? ['X','M','C','B','A'][floor(-3.5 - log(datum.value)/LN10 + 0.01)] : ''",
            "tickSize": {"condition": [{"test": "abs(log(datum.value)/LN10 - floor(log(datum.value)/LN10) - 0.5) < 0.001", "value": 0}, {"test": "abs(log(datum.value)/LN10 - round(log(datum.value)/LN10)) < 0.01", "value": -10}], "value": -5},
            "labelPadding": 10, "labelFontSize": 21
          }
        },
        "color": {"field": "s", "type": "nominal",
          "scale": {"domain": ["GOES-19 1.0-8.0Å", "GOES-18 1.0-8.0Å", "GOES-19 0.5-4.0Å", "GOES-18 0.5-4.0Å"], "range": ["#ffb000", "#ff0000", "#00ffff", "#0000ff"]},
          "legend": {"title": null, "orient": "none", "legendX": 737, "legendY": 6, "columns": 2, "symbolType": "stroke", "symbolStrokeWidth": 1.6, "symbolSize": 300, "labelFontSize": 14, "labelFont": "DejaVu Sans", "columnPadding": 30, "rowPadding": 6, "padding": 8, "strokeColor": "#cccccc", "fillColor": "white", "cornerRadius": 3}
        }
      }
    },
    {
      "data": {"name": "note"},
      "mark": {"type": "text", "align": "right", "baseline": "middle", "fontSize": 15, "font": "DejaVu Sans", "color": "black"},
      "encoding": {
        "x": {"field": "t", "type": "temporal"},
        "y": {"field": "v", "type": "quantitative", "axis": null},
        "text": {"field": "label"}
      }
    }
  ],
  "resolve": {"axis": {"y": "independent"}}
}
